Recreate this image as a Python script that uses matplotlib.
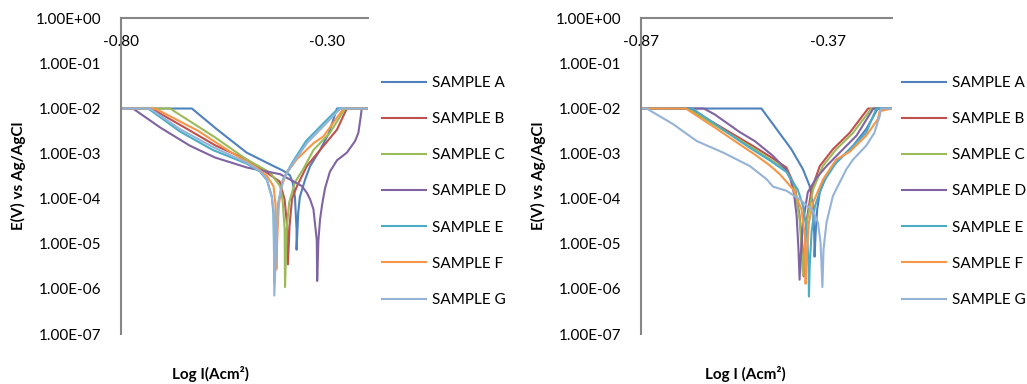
import matplotlib.pyplot as plt
from matplotlib.ticker import FixedLocator, FuncFormatter

plt.rcParams['font.family'] = ['Lato', 'DejaVu Sans']

samples = ["SAMPLE A", "SAMPLE B", "SAMPLE C", "SAMPLE D", "SAMPLE E", "SAMPLE F", "SAMPLE G"]
colors = ["#4F81BD", "#C0504D", "#9BBB59", "#8064A2", "#4BACC6", "#F79646", "#95B3D7"]

# left chart: Log I (x) against E (y, log scale)
left_x = [
    [-0.800, -0.628, -0.568, -0.495, -0.430, -0.407, -0.390, -0.383, -0.378, -0.374, -0.374, -0.370, -0.366, -0.353, -0.341, -0.317, -0.296, -0.276, -0.200],
    [-0.800, -0.726, -0.650, -0.570, -0.495, -0.450, -0.415, -0.403, -0.397, -0.395, -0.391, -0.385, -0.373, -0.349, -0.317, -0.276, -0.252, -0.200],
    [-0.800, -0.681, -0.572, -0.495, -0.438, -0.414, -0.408, -0.403, -0.402, -0.398, -0.392, -0.378, -0.358, -0.333, -0.293, -0.256, -0.200],
    [-0.800, -0.771, -0.705, -0.633, -0.572, -0.494, -0.414, -0.373, -0.361, -0.349, -0.341, -0.333, -0.325, -0.324, -0.321, -0.317, -0.312, -0.305, -0.293, -0.276, -0.252, -0.240, -0.232, -0.224, -0.220, -0.217, -0.216, -0.200],
    [-0.800, -0.734, -0.657, -0.577, -0.495, -0.463, -0.446, -0.434, -0.430, -0.429, -0.428, -0.423, -0.419, -0.407, -0.383, -0.351, -0.305, -0.273, -0.200],
    [-0.800, -0.717, -0.613, -0.535, -0.471, -0.446, -0.430, -0.425, -0.424, -0.423, -0.421, -0.417, -0.409, -0.398, -0.374, -0.333, -0.309, -0.260, -0.200],
    [-0.800, -0.730, -0.657, -0.577, -0.495, -0.463, -0.446, -0.434, -0.430, -0.429, -0.428, -0.422, -0.418, -0.406, -0.382, -0.349, -0.301, -0.268, -0.200],
]
left_y = [
    [1e-2, 1e-2, 3.5e-3, 1.05e-3, 5.3e-4, 4.2e-4, 3.3e-4, 2.2e-4, 1.1e-4, 2.1e-5, 7.4e-6, 4.9e-5, 1.1e-4, 2.7e-4, 5.3e-4, 1.2e-3, 2.8e-3, 1e-2, 1e-2],
    [1e-2, 1e-2, 4.0e-3, 1.5e-3, 7.4e-4, 4.0e-4, 2.4e-4, 9.5e-5, 2.5e-5, 3.5e-6, 2.5e-5, 1.0e-4, 1.9e-4, 5.3e-4, 1.2e-3, 3.4e-3, 1e-2, 1e-2],
    [1e-2, 1e-2, 2.3e-3, 7.4e-4, 3.8e-4, 1.9e-4, 9.6e-5, 2.1e-5, 1.1e-6, 2.1e-5, 8.2e-5, 2.3e-4, 4.5e-4, 1.2e-3, 2.9e-3, 1e-2, 1e-2],
    [1e-2, 1e-2, 3.8e-3, 1.5e-3, 8.2e-4, 4.9e-4, 3.5e-4, 2.2e-4, 1.9e-4, 1.35e-4, 9.6e-5, 5.8e-5, 1.2e-5, 1.5e-6, 1.2e-5, 3.5e-5, 7.4e-5, 1.7e-4, 4.0e-4, 7.1e-4, 1.05e-3, 1.5e-3, 1.9e-3, 2.9e-3, 5.2e-3, 8.2e-3, 1e-2, 1e-2],
    [1e-2, 1e-2, 3.1e-3, 1.2e-3, 6.0e-4, 4.0e-4, 2.6e-4, 1.1e-4, 4.5e-5, 1.2e-5, 1.3e-6, 1.2e-5, 7.4e-5, 2.7e-4, 6.6e-4, 1.9e-3, 5.1e-3, 1e-2, 1e-2],
    [1e-2, 1e-2, 3.2e-3, 1.1e-3, 4.9e-4, 3.2e-4, 1.9e-4, 7.4e-5, 1.2e-5, 2.7e-6, 1.2e-5, 7.4e-5, 2.1e-4, 3.7e-4, 7.4e-4, 1.7e-3, 2.4e-3, 1e-2, 1e-2],
    [1e-2, 1e-2, 3.5e-3, 1.4e-3, 6.3e-4, 4.1e-4, 2.7e-4, 1.1e-4, 5.8e-5, 2.1e-5, 7.1e-7, 2.1e-5, 8.2e-5, 2.7e-4, 6.3e-4, 1.7e-3, 4.8e-3, 1e-2, 1e-2],
]

# right chart
right_x = [
    [-0.870, -0.548, -0.468, -0.437, -0.419, -0.410, -0.407, -0.406, -0.403, -0.399, -0.392, -0.374, -0.357, -0.303, -0.268, -0.237, -0.200],
    [-0.870, -0.739, -0.673, -0.606, -0.566, -0.526, -0.481, -0.459, -0.446, -0.438, -0.435, -0.432, -0.428, -0.414, -0.392, -0.357, -0.312, -0.263, -0.200],
    [-0.870, -0.745, -0.673, -0.606, -0.566, -0.526, -0.481, -0.459, -0.446, -0.441, -0.437, -0.433, -0.426, -0.410, -0.384, -0.348, -0.303, -0.254, -0.200],
    [-0.870, -0.702, -0.673, -0.606, -0.566, -0.517, -0.483, -0.470, -0.461, -0.454, -0.449, -0.446, -0.442, -0.437, -0.424, -0.401, -0.374, -0.339, -0.294, -0.249, -0.200],
    [-0.870, -0.733, -0.673, -0.606, -0.566, -0.526, -0.481, -0.451, -0.437, -0.426, -0.422, -0.421, -0.419, -0.414, -0.405, -0.383, -0.348, -0.312, -0.268, -0.241, -0.200],
    [-0.870, -0.750, -0.673, -0.606, -0.566, -0.526, -0.499, -0.463, -0.441, -0.432, -0.430, -0.426, -0.421, -0.410, -0.383, -0.348, -0.312, -0.268, -0.237, -0.232, -0.200],
    [-0.870, -0.855, -0.784, -0.721, -0.650, -0.579, -0.534, -0.517, -0.481, -0.446, -0.410, -0.397, -0.390, -0.385, -0.382, -0.374, -0.357, -0.321, -0.303, -0.268, -0.246, -0.232, -0.228, -0.200],
]
right_y = [
    [1e-2, 1e-2, 1.25e-3, 4.5e-4, 1.9e-4, 6.9e-5, 1.8e-5, 5.2e-6, 1.8e-5, 5.8e-5, 1.4e-4, 3.2e-4, 5.3e-4, 1.5e-3, 3.5e-3, 1e-2, 1e-2],
    [1e-2, 1e-2, 4.7e-3, 2.2e-3, 1.4e-3, 8.7e-4, 4.9e-4, 1.9e-4, 4.2e-5, 7.6e-6, 1.9e-6, 7.6e-6, 3.0e-5, 1.6e-4, 5.3e-4, 1.25e-3, 2.9e-3, 1e-2, 1e-2],
    [1e-2, 1e-2, 4.3e-3, 2.0e-3, 1.25e-3, 7.6e-4, 4.3e-4, 1.7e-4, 3.5e-5, 8.0e-6, 2.0e-6, 8.0e-6, 3.2e-5, 1.6e-4, 5.3e-4, 1.25e-3, 2.9e-3, 1e-2, 1e-2],
    [1e-2, 1e-2, 7.4e-3, 3.0e-3, 1.9e-3, 8.9e-4, 4.5e-4, 2.7e-4, 1.3e-4, 4.2e-5, 7.6e-6, 1.6e-6, 7.6e-6, 3.0e-5, 1.4e-4, 2.9e-4, 5.3e-4, 1.05e-3, 2.5e-3, 1e-2, 1e-2],
    [1e-2, 1e-2, 4.6e-3, 1.9e-3, 1.15e-3, 7.1e-4, 3.9e-4, 1.6e-4, 6.9e-5, 1.8e-5, 3.2e-6, 6.8e-7, 3.2e-6, 1.8e-5, 6.9e-5, 2.3e-4, 6.3e-4, 1.25e-3, 2.9e-3, 1e-2, 1e-2],
    [1e-2, 1e-2, 3.8e-3, 1.6e-3, 9.6e-4, 5.5e-4, 3.5e-4, 1.6e-4, 5.8e-5, 1.5e-5, 1.3e-6, 7.6e-6, 3.0e-5, 8.2e-5, 2.7e-4, 7.4e-4, 1.1e-3, 2.5e-3, 5.8e-3, 8.7e-3, 1e-2],
    [1e-2, 1e-2, 4.5e-3, 1.9e-3, 1.05e-3, 5.3e-4, 2.7e-4, 1.85e-4, 1.5e-4, 9.7e-5, 5.4e-5, 3.0e-5, 1.06e-5, 1.1e-6, 7.6e-6, 3.0e-5, 1.15e-4, 4.5e-4, 7.4e-4, 1.5e-3, 2.9e-3, 6.8e-3, 1e-2, 1e-2],
]

panels = [
    (left_x, left_y, (-0.80, -0.20), [-0.80, -0.30], "Log I(Acm²)"),
    (right_x, right_y, (-0.87, -0.20), [-0.87, -0.37], "Log I (Acm²)"),
]
y_ticks = [1e-7, 1e-6, 1e-5, 1e-4, 1e-3, 1e-2, 1e-1, 1e0]

fig = plt.figure(figsize=(10.27, 3.84), dpi=100)
axes = [fig.add_axes([0.1178, 0.1302, 0.2408, 0.8221]),
        fig.add_axes([0.6241, 0.1302, 0.2441, 0.8221])]

for ax, (xs, ys, xlim, xticks, xlabel) in zip(axes, panels):
    for i in range(len(samples)):
        ax.plot(xs[i], ys[i], color=colors[i], lw=1.5, label=samples[i],
                solid_joinstyle='round')
    ax.set_yscale('log')
    ax.set_ylim(1e-7, 1e0)
    ax.set_xlim(*xlim)
    ax.yaxis.set_major_locator(FixedLocator(y_ticks))
    ax.yaxis.set_minor_locator(FixedLocator([]))
    ax.yaxis.set_major_formatter(FuncFormatter(lambda v, p: f"{v:.2E}"))
    ax.set_xticks(xticks)
    ax.set_xticklabels([f"{t:.2f}" for t in xticks])
    ax.xaxis.set_ticks_position('top')
    ax.tick_params(axis='x', length=0, pad=-22, labelsize=11)
    ax.tick_params(axis='y', length=0, pad=14, labelsize=11)
    for s in ['right', 'bottom']:
        ax.spines[s].set_visible(False)
    for s in ['left', 'top']:
        ax.spines[s].set_color('#868686')
        ax.spines[s].set_linewidth(1.5)
    ax.set_ylabel("E(V) vs Ag/AgCl", fontsize=11, fontweight='bold')
    ax.set_xlabel(xlabel, fontsize=11, fontweight='bold')
    ax.xaxis.set_label_position('bottom')
    ax.patch.set_alpha(0)

axes[0].yaxis.set_label_coords(-0.384, 0.5)
axes[1].yaxis.set_label_coords(-0.379, 0.5)
axes[0].xaxis.set_label_coords(0.36, -0.10)
axes[1].xaxis.set_label_coords(0.415, -0.10)

for ax, x0 in zip(axes, [382, 902]):
    ax.legend(loc='upper left', bbox_to_anchor=(x0 / 1027, 1 - 76 / 384),
              bbox_transform=fig.transFigure, frameon=False, fontsize=11,
              handlelength=2.9, handletextpad=0.35, labelspacing=1.45,
              borderpad=0, borderaxespad=0)

fig.savefig("out.png", dpi=100)
